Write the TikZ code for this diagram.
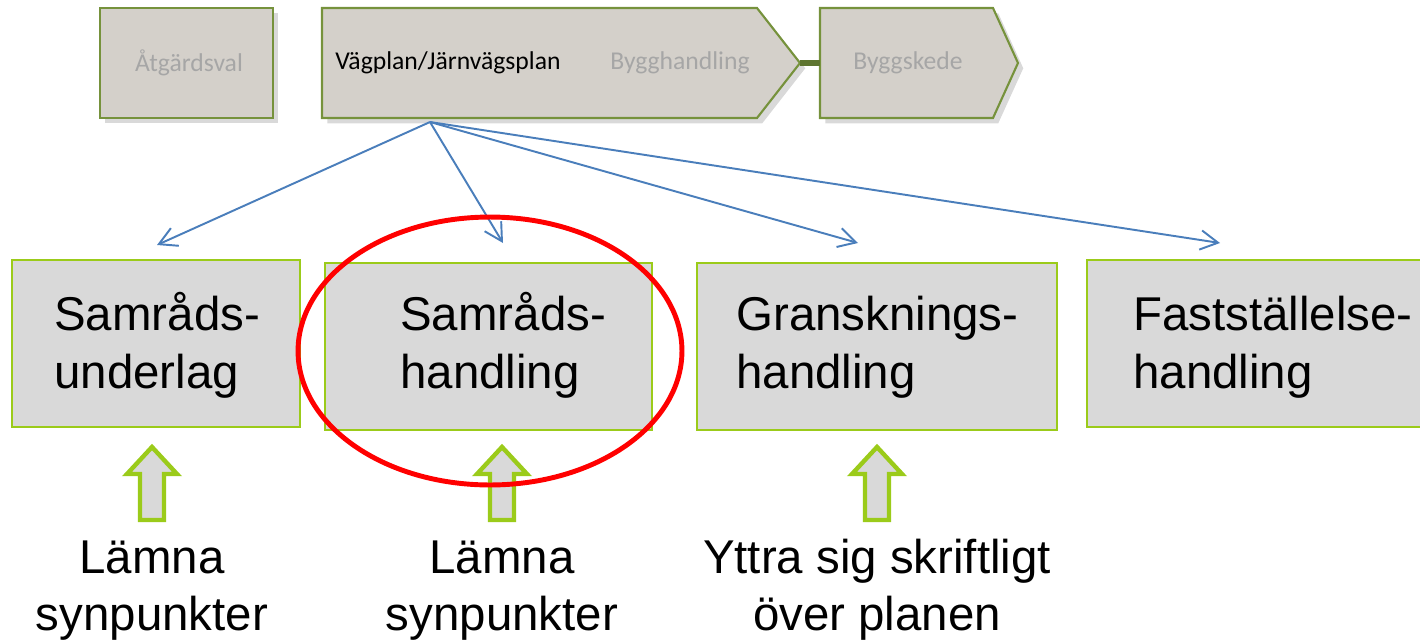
\documentclass[tikz,border=0pt]{standalone}
\usepackage{fontspec}
\setmainfont{Liberation Sans}
\newfontfamily\stagefont{Carlito}
\usetikzlibrary{arrows.meta,shapes.geometric,shadows}

\definecolor{stagefill}{HTML}{D4D0CA}
\definecolor{stageline}{HTML}{76923C}
\definecolor{stagegray}{HTML}{A6A6A6}
\definecolor{docfill}{HTML}{D9D9D9}
\definecolor{docline}{HTML}{9BCB1A}
\definecolor{linkblue}{HTML}{4A7EBB}

\def\documents{156/343.5/288/167/54/underlag/Samråds-\\underlag, 488.5/346.5/327/167/400/handling/Samråds-\\handling, 877/346.5/360/167/736/gransk/Gransknings-\\handling, 1263.5/343.5/353/167/1133/faststall/Fastställelse-\\handling}
\def\targets{157/245/tu, 503/243/th, 858/243/tg, 1220/243/tf}
\def\notes{152/lamna/Lämna\\synpunkter, 502/lamnb/Lämna\\synpunkter, 877/yttra/Yttra sig skriftligt\\över planen}
\tikzstyle{stage} = [draw=stageline, line width=1.2pt, fill=stagefill, drop shadow={opacity=0.3, shadow xshift=3pt, shadow yshift=-3pt}]
\tikzstyle{stagetext} = [font=\stagefont\fontsize{14.6}{16}\selectfont, text=stagegray, inner sep=0pt]
\tikzstyle{stagelink} = [draw=stageline!80!black, line width=3pt]
\tikzstyle{planlink} = [draw=linkblue, line width=1.1pt, -{Straight Barb[length=10pt,width=11pt]}]
\tikzstyle{docbox} = [draw=docline, line width=1.3pt, fill=docfill, inner sep=0pt]
\tikzstyle{doctext} = [font=\fontsize{27}{33}\selectfont, align=left, inner sep=0pt]
\tikzstyle{notetext} = [font=\fontsize{27}{32}\selectfont, align=center, inner sep=0pt]
\tikzstyle{hollow arrow} = [draw=docline, line width=2.5pt, fill=docfill, line join=miter]
\tikzstyle{focus ring} = [draw=red, line width=2.8pt, ellipse, inner sep=0pt]

\begin{document}
\begin{tikzpicture}[x=0.02cm, y=-0.02cm]
  \useasboundingbox (0,0) rectangle (1420,643);

  % The stage bar at the top
  \draw[stage] (100,8) rectangle (273,118);
  \node[stagetext] (atgard) at (189,63) {Åtgärdsval};
  \draw[stage] (322,8) -- (757,8) -- (800,63) -- (757,118) -- (322,118) -- cycle;
  \draw[stage] (820,8) -- (993,8) -- (1018,63) -- (993,118) -- (820,118) -- cycle;
  \coordinate (vptip) at (800,63);
  \coordinate (bsleft) at (820,63);
  \draw[stagelink] (vptip) -- (bsleft);
  \node[stagetext, text=black, anchor=west] (vagplan) at (335,63) {Vägplan/Järnvägsplan};
  \node[stagetext] (bygghandling) at (680,63) {Bygghandling};
  \node[stagetext] (byggskede) at (908,63) {Byggskede};

  % The documents
  \foreach \cx/\cy/\w/\h/\tx/\name/\label in \documents {
    \node[docbox, minimum width=\w*0.02cm, minimum height=\h*0.02cm] (\name) at (\cx,\cy) {};
    \node[doctext, anchor=base west] (\name-text) at (\tx,388) {\label};
  }

  % Links from the plan stage
  \coordinate (src) at (430,122);
  \foreach \tx/\ty/\name in \targets {
    \coordinate (\name) at (\tx,\ty);
    \draw[planlink] (src) -- (\name);
  }

  % Hollow arrows and what to do
  \foreach \cx/\name/\label in \notes {
    \draw[hollow arrow] (\cx-12,520) -- (\cx-12,474) -- (\cx-25,474) -- (\cx,447)
      -- (\cx+25,474) -- (\cx+12,474) -- (\cx+12,520) -- cycle;
    \node[notetext, anchor=base] (\name) at (\cx,630) {\label};
  }

  \node[focus ring, minimum width=7.68cm, minimum height=5.36cm] (focus) at (490,351) {};
\end{tikzpicture}
\end{document}
